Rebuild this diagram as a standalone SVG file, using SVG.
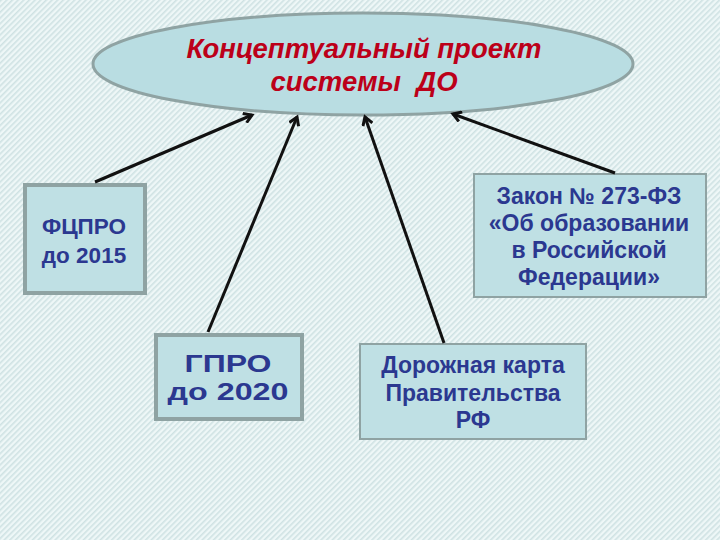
<svg xmlns="http://www.w3.org/2000/svg" width="720" height="540" viewBox="0 0 720 540">
<defs>
<pattern id="hatch" width="4" height="4" patternUnits="userSpaceOnUse" patternTransform="rotate(45)">
<rect width="4" height="4" fill="#eef7f7"/>
<rect width="1.6" height="4" fill="#cfe2e3"/>
</pattern>
<marker id="arr" markerWidth="12" markerHeight="12" refX="9" refY="6" orient="auto" markerUnits="userSpaceOnUse">
<path d="M1,1 L9,6 L1,11" fill="none" stroke="#111" stroke-width="3" stroke-linejoin="miter"/>
</marker>
</defs>
<style>
.box{fill:#bfe0e4;stroke:#8fa3a3}
.t{font-family:"Liberation Sans",Arial,sans-serif;font-weight:bold;fill:#2b3890;text-anchor:middle}
.title{font-family:"Liberation Sans",Arial,sans-serif;font-weight:bold;font-style:italic;fill:#bc0019;font-size:27.5px;text-anchor:middle}
.c{stroke:#111;stroke-width:3;fill:none;marker-end:url(#arr)}
</style>
<rect width="720" height="540" fill="url(#hatch)"/>
<g id="concept">
<ellipse cx="363" cy="64" rx="270" ry="51" fill="#b9dde2" stroke="#8fa3a3" stroke-width="3"/>
<text class="title" x="364" y="58">Концептуальный проект</text>
<text class="title" x="364" y="91">системы&#160; ДО</text>
</g>
<g id="fcpro">
<rect class="box" x="25" y="185" width="120" height="108" stroke-width="4"/>
<text class="t" x="84" y="234" font-size="22.5">ФЦПРО</text>
<text class="t" x="84" y="263" font-size="22.5">до 2015</text>
</g>
<g id="gpro">
<rect class="box" x="156" y="335" width="146" height="84" stroke-width="4"/>
<text class="t" x="228" y="372" font-size="24" font-family="'DejaVu Sans',sans-serif" textLength="87" lengthAdjust="spacingAndGlyphs">ГПРО</text>
<text class="t" x="228" y="400" font-size="24" font-family="'DejaVu Sans',sans-serif" textLength="121" lengthAdjust="spacingAndGlyphs">до 2020</text>
</g>
<g id="zakon">
<rect class="box" x="474" y="174" width="232" height="123" stroke-width="2"/>
<text class="t" x="589" y="204" font-size="23">Закон № 273-ФЗ</text>
<text class="t" x="589" y="231" font-size="23">«Об образовании</text>
<text class="t" x="589" y="258" font-size="23">в Российской</text>
<text class="t" x="589" y="285" font-size="23">Федерации»</text>
</g>
<g id="karta">
<rect class="box" x="360" y="344" width="226" height="95" stroke-width="2"/>
<text class="t" x="473" y="373" font-size="23">Дорожная карта</text>
<text class="t" x="473" y="401" font-size="23">Правительства</text>
<text class="t" x="473" y="428" font-size="23">РФ</text>
</g>
<g id="connectors">
<line class="c" x1="95" y1="182" x2="252" y2="115"/>
<line class="c" x1="208" y1="332" x2="297" y2="117"/>
<line class="c" x1="444" y1="343" x2="365" y2="117"/>
<line class="c" x1="615" y1="173" x2="453" y2="114"/>
</g>
</svg>
